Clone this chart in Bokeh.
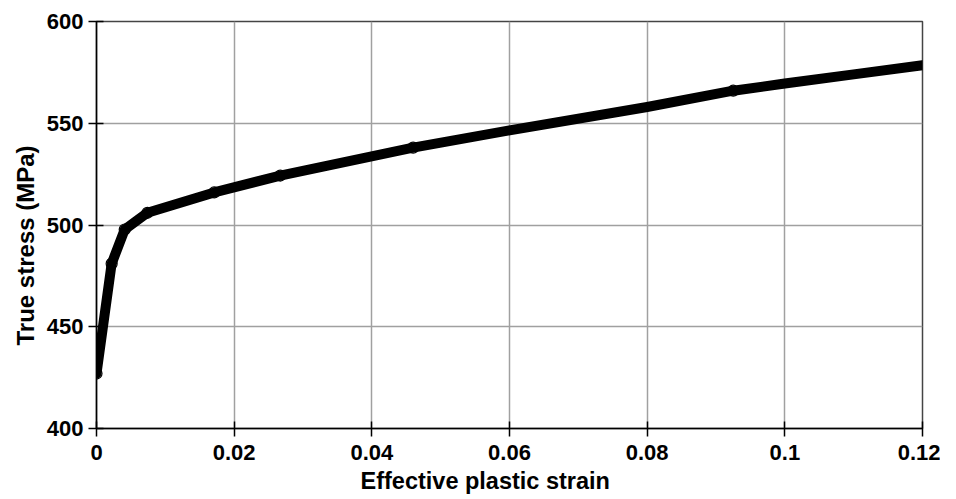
from bokeh.plotting import figure
from bokeh.models import FixedTicker, CustomJSTickFormatter, Range1d, Title
from bokeh.embed import file_html
from bokeh.resources import INLINE

# Curve (line) data
strain_line = [0.0, 0.0022, 0.0041, 0.0074, 0.0171, 0.0267, 0.046, 0.06, 0.08, 0.0925, 0.1, 0.11, 0.12]
stress_line = [427.0, 481.0, 497.8, 506.0, 516.0, 524.3, 538.0, 546.5, 558.0, 566.0, 569.5, 574.0, 578.5]

# Marker points
strain_pts = [0.0, 0.0022, 0.0041, 0.0074, 0.0171, 0.0267, 0.046, 0.0925]
stress_pts = [427.0, 481.0, 497.8, 506.0, 516.0, 524.3, 538.0, 566.0]

x_ticks = [0.0, 0.02, 0.04, 0.06, 0.08, 0.1, 0.12]
y_ticks = [400, 450, 500, 550, 600]

x_title = "Effective plastic strain"
y_title = "True stress (MPa)"

p = figure(width=940, height=499, output_backend="svg", toolbar_location=None,
           x_range=Range1d(0, 0.12), y_range=Range1d(400, 600),
           min_border_left=96, min_border_right=18, min_border_top=21, min_border_bottom=71)

p.line(strain_line, stress_line, line_color="black", line_width=10, line_join="round", line_cap="round")
p.scatter(strain_pts, stress_pts, marker="circle", size=11, fill_color="white", fill_alpha=0.0,
          line_color="black", line_width=1.2)

font = "Liberation Sans"
for ax in (p.xaxis[0], p.yaxis[0]):
    ax.axis_line_color = "black"
    ax.axis_line_width = 1.5
    ax.major_tick_line_color = "black"
    ax.major_tick_line_width = 1.5
    ax.major_tick_in = 7
    ax.major_tick_out = 8
    ax.minor_tick_line_color = None
    ax.major_label_text_font = font
    ax.major_label_text_font_style = "bold"
    ax.major_label_text_font_size = "22px"
    ax.major_label_text_color = "black"
    ax.major_label_standoff = 5

p.xaxis.ticker = FixedTicker(ticks=x_ticks)
p.yaxis.ticker = FixedTicker(ticks=y_ticks)
p.xaxis.formatter = CustomJSTickFormatter(code="return Number(tick.toFixed(2)).toString();")
p.xaxis.major_label_standoff = 8

# Axis titles (placed slightly off-centre, as in the reference)
p.add_layout(Title(text=x_title, align="left", offset=264, standoff=7, text_font=font,
                   text_font_style="bold", text_font_size="23.5px", text_color="black"), "below")
p.add_layout(Title(text=y_title, align="left", offset=83, standoff=9, text_font=font,
                   text_font_style="bold", text_font_size="24px", text_color="black"), "left")

p.xgrid.ticker = FixedTicker(ticks=x_ticks)
p.ygrid.ticker = FixedTicker(ticks=y_ticks)
p.grid.grid_line_color = "#a0a0a0"
p.grid.grid_line_width = 1.5

p.outline_line_color = "#444444"
p.outline_line_width = 1.5
p.background_fill_color = "white"
p.border_fill_color = "white"

open("out.html", "w").write(file_html(p, INLINE))
